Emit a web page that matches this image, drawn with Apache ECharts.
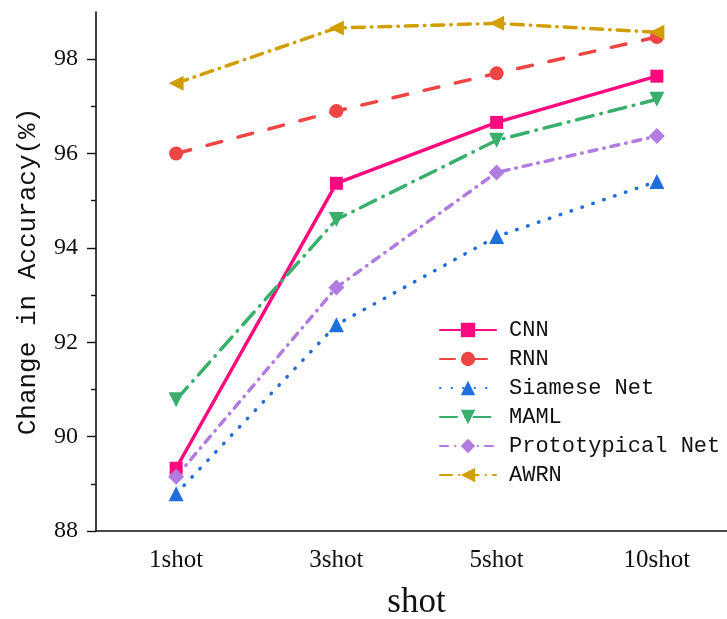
<!DOCTYPE html>
<html>
<head>
<meta charset="utf-8">
<script src="https://cdn.jsdelivr.net/npm/echarts@6/dist/echarts.min.js"></script>
<style>
  html, body { margin: 0; padding: 0; background: #fff; }
  #chart { width: 727px; height: 619px; }
</style>
</head>
<body>
<div id="chart"></div>
<script>
// Few-shot accuracy by number of shots
const shots = ['1shot', '3shot', '5shot', '10shot'];
const cnn = [89.33, 95.37, 96.66, 97.64];
const rnn = [96.0, 96.9, 97.7, 98.47];
const siamese = [88.79, 92.37, 94.24, 95.41];
const maml = [90.78, 94.6, 96.28, 97.15];
const prototypical = [89.15, 93.16, 95.6, 96.37];
const awrn = [97.49, 98.66, 98.76, 98.57];

const yMajor = [88, 90, 92, 94, 96, 98];
const yMinor = [89, 91, 93, 95, 97];

const serif = '"Liberation Serif", "DejaVu Serif", serif';
const mono = '"Liberation Mono", "DejaVu Sans Mono", monospace';

function line(name, data, color, dash, symbol, size, rotate) {
  return {
    name: name,
    type: 'line',
    data: data,
    symbol: symbol,
    symbolSize: size,
    symbolRotate: rotate || 0,
    itemStyle: { color: color },
    lineStyle: { color: color, width: 3.5, type: dash, cap: 'round' },
    emphasis: { disabled: true }
  };
}

const chart = echarts.init(document.getElementById('chart'));
chart.setOption({
  animation: false,
  backgroundColor: '#fff',
  grid: { left: 96, top: 12, width: 641, height: 519, containLabel: false, outerBoundsMode: 'none' },
  legend: {
    left: 439, top: 319, orient: 'vertical', padding: 0,
    itemWidth: 56, itemHeight: 18, itemGap: 7,
    textStyle: { fontFamily: mono, fontSize: 22, lineHeight: 22, color: '#111', padding: [0, 0, 0, 8] },
    data: ['CNN', 'RNN', 'Siamese Net', 'MAML', 'Prototypical Net', 'AWRN']
  },
  xAxis: [{
    type: 'category', data: shots, boundaryGap: true,
    name: 'shot', nameLocation: 'middle', nameGap: 54,
    nameTextStyle: { fontFamily: serif, fontSize: 35, color: '#111' },
    axisLine: { lineStyle: { color: '#111', width: 1.6 } },
    axisTick: { alignWithLabel: true, length: 10, lineStyle: { color: '#111', width: 1.4 } },
    axisLabel: { fontFamily: serif, fontSize: 25, color: '#111', margin: 17 },
    splitLine: { show: false }
  }, {
    type: 'category', data: shots, boundaryGap: true, position: 'bottom',
    axisLine: { show: false },
    axisTick: { alignWithLabel: false, length: 4, lineStyle: { color: '#111', width: 1.4 } },
    axisLabel: { show: false },
    splitLine: { show: false }
  }],
  yAxis: [{
    type: 'value', min: 88, max: 99,
    name: 'Change in Accuracy(%)', nameLocation: 'middle', nameGap: 55,
    nameTextStyle: { fontFamily: mono, fontSize: 26, color: '#111' },
    axisLine: { show: true, lineStyle: { color: '#111', width: 1.6 } },
    axisTick: { show: true, length: 9, customValues: yMajor, lineStyle: { color: '#111', width: 1.4 } },
    axisLabel: { customValues: yMajor, fontFamily: serif, fontSize: 24, color: '#111', margin: 18 },
    splitLine: { show: false }
  }, {
    type: 'value', min: 88, max: 99, position: 'left',
    axisLine: { show: false },
    axisTick: { show: true, length: 5, customValues: yMinor, lineStyle: { color: '#111', width: 1.4 } },
    axisLabel: { show: false },
    splitLine: { show: false }
  }],
  series: [
    line('CNN', cnn, '#FF0A7E', 'solid', 'rect', 13),
    line('RNN', rnn, '#F04545', [15, 17], 'circle', 14),
    line('Siamese Net', siamese, '#1E6FDC', [0.5, 11], 'triangle', 15),
    line('MAML', maml, '#3AAE6C', [17, 8, 0.5, 8], 'triangle', 15, 180),
    line('Prototypical Net', prototypical, '#B07CDF', [8, 7, 0.5, 7], 'diamond', 16),
    line('AWRN', awrn, '#D19E00', [12, 7, 0.5, 7], 'triangle', 15, 90)
  ]
});
</script>
</body>
</html>
